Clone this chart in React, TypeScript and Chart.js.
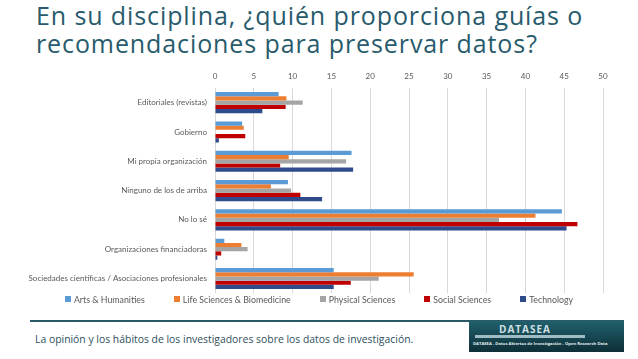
import React, { useEffect, useRef } from "react";
import { Chart, registerables } from "chart.js";

Chart.register(...registerables);

const categories = [
  "Editoriales (revistas)",
  "Gobierno",
  "Mi propia organización",
  "Ninguno de los de arriba",
  "No lo sé",
  "Organizaciones financiadoras",
  "Sociedades científicas / Asociaciones profesionales",
];

const seriesNames = [
  "Arts & Humanities",
  "Life Sciences & Biomedicine",
  "Physical Sciences",
  "Social Sciences",
  "Technology",
];

const artsHumanities = [8.2, 3.5, 17.6, 9.4, 44.7, 1.2, 15.3];
const lifeSciences = [9.2, 3.7, 9.5, 7.2, 41.3, 3.4, 25.6];
const physicalSciences = [11.3, 0, 16.9, 9.8, 36.6, 4.2, 21.1];
const socialSciences = [9.1, 3.9, 8.4, 11.0, 46.7, 0.8, 17.5];
const technology = [6.1, 0.5, 17.8, 13.8, 45.3, 0.3, 15.3];

const xTicks = [0, 5, 10, 15, 20, 25, 30, 35, 40, 45, 50];

const colors = ["#5b9bd5", "#ed7d31", "#a5a5a5", "#c00000", "#2f4b8c"];

export default function App() {
  const ref = useRef<HTMLCanvasElement>(null);
  useEffect(() => {
    if (!ref.current) return;
    const values = [artsHumanities, lifeSciences, physicalSciences, socialSciences, technology];
    const chart = new Chart(ref.current, {
      type: "bar",
      data: {
        labels: categories,
        datasets: seriesNames.map((name, i) => ({
          label: name,
          data: values[i],
          backgroundColor: colors[i],
          borderWidth: 0,
          categoryPercentage: 0.72,
          barPercentage: 1,
        })),
      },
      options: {
        indexAxis: "y",
        animation: false,
        responsive: false,
        maintainAspectRatio: false,
        layout: { padding: { left: 0, right: 0, top: 64, bottom: 0 } },
        plugins: {
          title: { display: false },
          tooltip: { enabled: false },
          legend: { display: false },
        },
        scales: {
          x: {
            position: "top",
            min: 0,
            max: 50,
            afterBuildTicks: (scale: any) => {
              scale.ticks = xTicks.map((v) => ({ value: v }));
            },
            afterFit: (scale: any) => {
              scale.height = 24;
            },
            grid: { color: "#d9d9d9", drawTicks: false, lineWidth: 1 },
            border: { display: false },
            ticks: {
              padding: 7,
              color: "#595959",
              font: { family: "Lato", size: 8 },
            },
          },
          y: {
            afterFit: (scale: any) => {
              scale.width = 215;
            },
            grid: { display: false, drawTicks: false },
            border: { display: false },
            ticks: {
              padding: 8,
              color: "#595959",
              font: { family: "Lato", size: 8 },
              autoSkip: false,
            },
          },
          yRight: {
            type: "category",
            position: "right",
            labels: categories,
            afterFit: (scale: any) => {
              scale.width = 35;
            },
            grid: { display: false, drawTicks: false },
            border: { display: false },
            ticks: { display: false },
          },
        },
      },
    });
    return () => chart.destroy();
  }, []);

  return (
    <div
      style={{
        position: "fixed",
        left: 0,
        top: 0,
        width: 638,
        height: 359,
        background: "#ffffff",
        overflow: "hidden",
        fontFamily: "'Open Sans', sans-serif",
      }}
    >
      <div
        style={{
          position: "absolute",
          left: 36,
          top: 1,
          fontSize: 25,
          letterSpacing: 0.9,
          lineHeight: "28px",
          color: "#285b6c",
          whiteSpace: "nowrap",
        }}
      >
        En su disciplina, ¿quién proporciona guías o
        <br />
        recomendaciones para preservar datos?
      </div>
      <canvas
        ref={ref}
        width={638}
        height={306}
        style={{ position: "absolute", left: 0, top: 0, width: 638, height: 306 }}
      />
      <div
        style={{
          position: "absolute",
          left: 0,
          top: 293,
          width: 638,
          height: 12,
          display: "flex",
          justifyContent: "center",
          alignItems: "center",
          gap: 29,
          fontFamily: "Lato, sans-serif",
          fontSize: 8.8,
          color: "#595959",
          whiteSpace: "nowrap",
        }}
      >
        {seriesNames.map((name, i) => (
          <div key={name} style={{ display: "flex", alignItems: "center" }}>
            <span
              style={{
                display: "inline-block",
                width: 6,
                height: 6,
                background: colors[i],
                marginRight: 3,
              }}
            />
            <span>{name}</span>
          </div>
        ))}
      </div>
      <div
        style={{
          position: "absolute",
          left: 30,
          top: 320,
          width: 594,
          height: 2,
          background: "#2a5a6a",
        }}
      />
      <div
        style={{
          position: "absolute",
          left: 35,
          top: 332,
          fontSize: 10.4,
          color: "#2e4f5d",
          whiteSpace: "nowrap",
        }}
      >
        La opinión y los hábitos de los investigadores sobre los datos de investigación.
      </div>
      <div
        style={{
          position: "absolute",
          left: 469,
          top: 321,
          width: 155,
          height: 31,
          background: "linear-gradient(180deg, #21606c 0%, #164550 55%, #0e2f37 100%)",
          color: "#d8e6ea",
          overflow: "hidden",
        }}
      >
        <div
          style={{
            position: "absolute",
            left: 30,
            top: 1,
            fontSize: 10,
            fontWeight: 700,
            letterSpacing: 1,
            color: "#cfe0e4",
          }}
        >
          DATASEA
        </div>
        <div
          style={{
            position: "absolute",
            left: 6,
            top: 14,
            width: 110,
            height: 3,
            background: "#9fbcc4",
          }}
        />
        <div
          style={{
            position: "absolute",
            left: 4,
            top: 20,
            fontSize: 4.2,
            whiteSpace: "nowrap",
            color: "#e0ecef",
            fontWeight: 700,
          }}
        >
          DATASEA - Datos Abiertos de Investigación - Open Research Data
        </div>
      </div>
    </div>
  );
}
